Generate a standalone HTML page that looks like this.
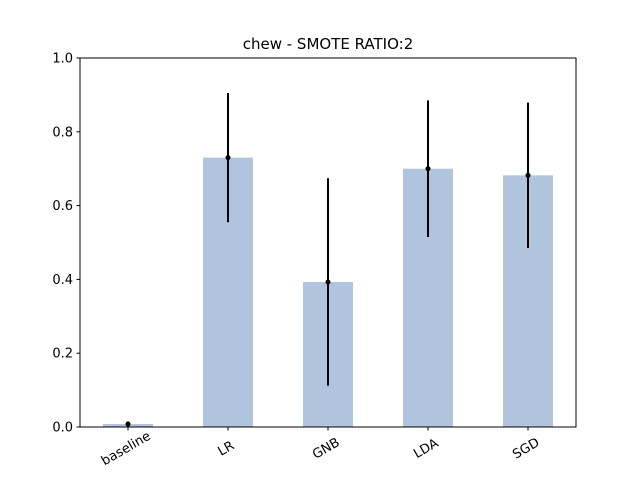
<!DOCTYPE html>
<html><head><meta charset="utf-8">
<style>
html,body{margin:0;padding:0;background:#fff;}
svg{display:block;font-family:"DejaVu Sans","Liberation Sans",sans-serif;}
</style></head>
<body>
<svg id="chart" width="640" height="480" viewBox="0 0 640 480">
<rect width="640" height="480" fill="#fff"/>
<text x="328" y="49" text-anchor="middle" font-size="15">chew - SMOTE RATIO:2</text>
<g id="marks"></g>
<g id="axes"></g>
<rect x="80" y="58" width="496" height="369" fill="none" stroke="#000" stroke-width="1"/>
</svg>
<script>
const categories = ["baseline","LR","GNB","LDA","SGD"];
const values = [0.008, 0.73, 0.393, 0.70, 0.682];
const errors = [0.007, 0.175, 0.281, 0.185, 0.197];
const yTicks = [0.0, 0.2, 0.4, 0.6, 0.8, 1.0];
const yTickLabels = ["0.0","0.2","0.4","0.6","0.8","1.0"];

const NS = "http://www.w3.org/2000/svg";
const L = 80, R = 576, T = 58, B = 427;
const xMin = -0.48, xMax = categories.length - 1 + 0.48;
function xs(i){ return L + (i - xMin) / (xMax - xMin) * (R - L); }
function ys(v){ return B - v * (B - T); }
const bw = (xs(1) - xs(0)) * 0.5;

function mk(tag, attrs){ const e = document.createElementNS(NS, tag); for (const k in attrs) e.setAttribute(k, attrs[k]); return e; }
const marks = document.getElementById('marks');
const axes = document.getElementById('axes');

categories.forEach((c, i) => {
  const cx = xs(i);
  const bar = mk('rect', {x: cx - bw/2, y: ys(values[i]), width: bw, height: ys(0) - ys(values[i]), fill: '#b0c4de'});
  
  
  marks.appendChild(bar);
  const eb = mk('line', {x1: cx, x2: cx, y1: ys(values[i] + errors[i]), y2: ys(Math.max(0, values[i] - errors[i])), stroke: '#000', 'stroke-width': 2});
  
  
  marks.appendChild(eb);
  const dot = mk('circle', {cx: cx, cy: ys(values[i]), r: 2.5, fill: '#000'});
  
  
  marks.appendChild(dot);
  const tk = mk('line', {x1: cx, x2: cx, y1: B, y2: B + 3.5, stroke: '#000', 'stroke-width': 1});
  
  
  axes.appendChild(tk);
  const lb = mk('text', {x: 0, y: 0, 'font-size': 13, 'text-anchor': 'middle', transform: `translate(${cx},${B + 25}) rotate(-30)`});
  lb.textContent = c;
  
  
  axes.appendChild(lb);
});

yTicks.forEach((v, i) => {
  const y = ys(v);
  const tk = mk('line', {x1: L - 3.5, x2: L, y1: y, y2: y, stroke: '#000', 'stroke-width': 1});
  
  
  axes.appendChild(tk);
  const lb = mk('text', {x: L - 7, y: y + 4.5, 'font-size': 13, 'text-anchor': 'end'});
  lb.textContent = yTickLabels[i];
  
  
  axes.appendChild(lb);
});
</script>
</body></html>
